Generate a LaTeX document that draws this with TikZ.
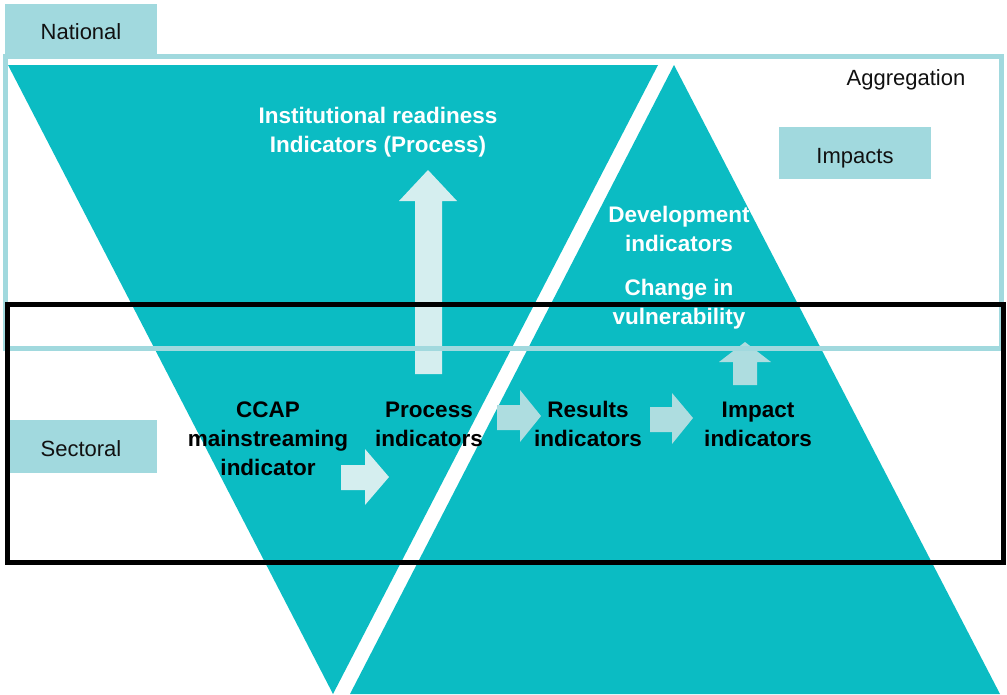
\documentclass[tikz,border=0pt]{standalone}
\usepackage{fontspec}
\setmainfont{Liberation Sans}
\definecolor{tealmain}{HTML}{0BBCC3}
\definecolor{tealbox}{HTML}{A1D9DE}
\definecolor{arrowlight}{HTML}{D5EEEF}
\definecolor{arrowmid}{HTML}{AEDDE0}
\definecolor{inkblack}{HTML}{111111}
\newcommand{\mlines}[1]{\begin{tabular}[t]{@{}c@{}}#1\end{tabular}}
\tikzset{
  tri/.style={fill=tealmain},
  blockarrowlight/.style={fill=arrowlight},
  blockarrowmid/.style={fill=arrowmid},
  wlabel/.style={anchor=base, inner sep=0pt, text=white, font=\fontsize{22.5pt}{29pt}\selectfont\bfseries},
  blabel/.style={anchor=base, inner sep=0pt, text=black, font=\fontsize{22.5pt}{29pt}\selectfont\bfseries},
  levelbox/.style={fill=tealbox, inner sep=0pt, text=inkblack, font=\fontsize{22pt}{27pt}\selectfont,
    text height=20pt, text depth=0pt},
  plain/.style={anchor=base, inner sep=0pt, text=inkblack, font=\fontsize{22pt}{27pt}\selectfont},
  aggframe/.style={draw=tealbox, line width=5pt},
  secframe/.style={draw=black, line width=5pt}
}
\begin{document}
\begin{tikzpicture}[x=1pt,y=-1pt]
\useasboundingbox (0,0) rectangle (1007,694);
% triangles
\fill[tri] (8,65) -- (658,65) -- (333,694) -- cycle;
\fill[tri] (674,65) -- (350,694) -- (1000,694) -- cycle;
% block arrows
\fill[blockarrowlight] (415,374) -- (415,201) -- (399,201) -- (428,170) -- (457,201) -- (442,201) -- (442,374) -- cycle;
\fill[blockarrowlight] (341,465) -- (365,465) -- (365,449) -- (389,477) -- (365,505) -- (365,490) -- (341,490) -- cycle;
\fill[blockarrowmid] (497,405) -- (520,405) -- (520,390) -- (541,416) -- (520,442) -- (520,430) -- (497,430) -- cycle;
\fill[blockarrowmid] (650,407) -- (672,407) -- (672,393) -- (693,418) -- (672,444) -- (672,432) -- (650,432) -- cycle;
\fill[blockarrowmid] (733,385) -- (733,362) -- (719,362) -- (745,342) -- (771,362) -- (757,362) -- (757,385) -- cycle;
% white texts
\node[wlabel] (inst) at (378,123) {\mlines{Institutional readiness\\Indicators (Process)}};
\node[wlabel] (dev) at (679,222) {\mlines{Development\\indicators}};
\node[wlabel] (vul) at (679,295) {\mlines{Change in\\vulnerability}};
% black texts
\node[blabel] (ccap) at (268,417) {\mlines{CCAP\\mainstreaming\\indicator}};
\node[blabel] (proc) at (429,417) {\mlines{Process\\indicators}};
\node[blabel] (res) at (588,417) {\mlines{Results\\indicators}};
\node[blabel] (imp) at (758,417) {\mlines{Impact\\indicators}};
% level boxes
\node[levelbox, minimum width=152pt, minimum height=50pt] (national) at (81,29) {National};
\node[levelbox, minimum width=152pt, minimum height=53pt] (sectoral) at (81,446.5) {Sectoral};
\node[levelbox, minimum width=152pt, minimum height=52pt] (impacts) at (855,153) {Impacts};
\node[plain] (aggr) at (906,85) {Aggregation};
% frames
\draw[aggframe] (5,56) rectangle (1001.5,348.5);
\draw[secframe] (7.5,304) rectangle (1003.5,562.5);
\end{tikzpicture}
\end{document}
